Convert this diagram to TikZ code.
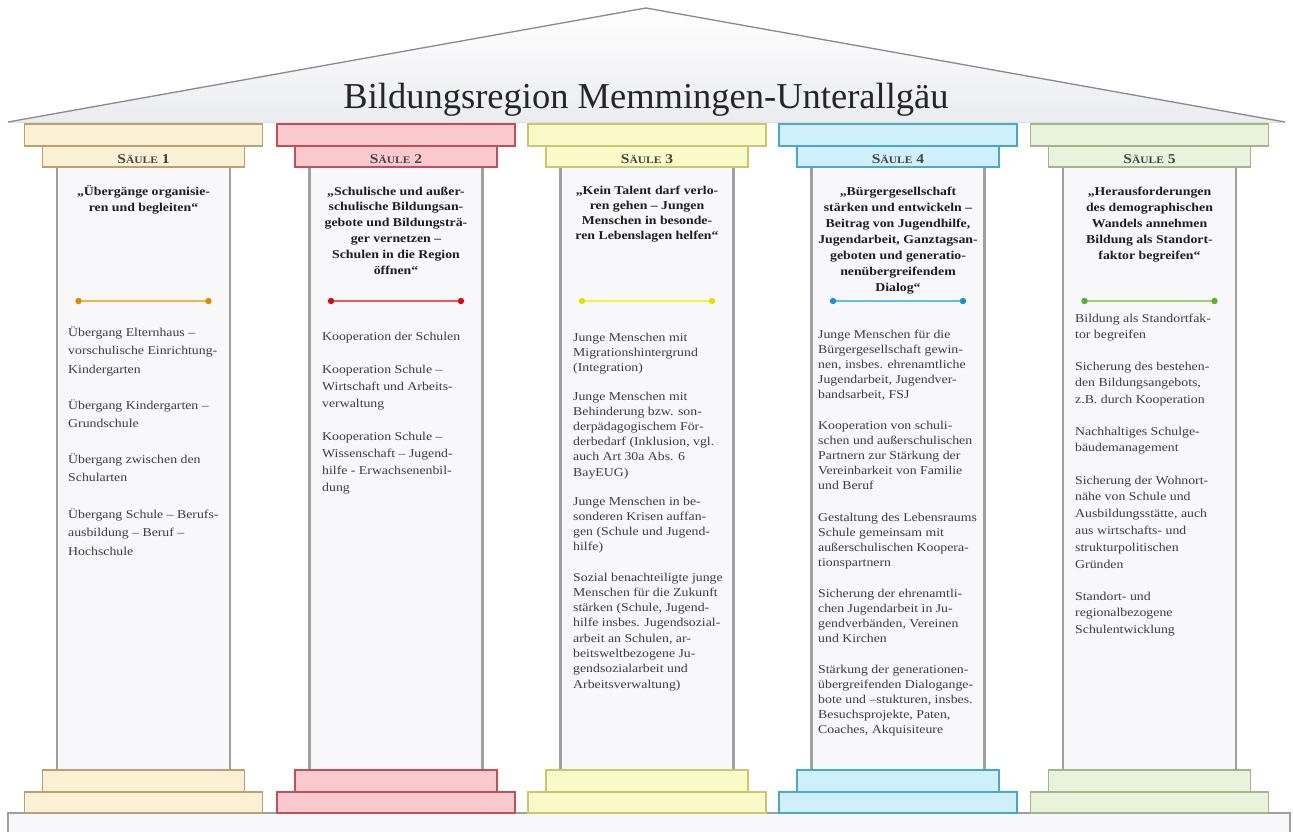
\documentclass[tikz,border=0pt]{standalone}
\usepackage{fontspec}
\setmainfont{Liberation Serif}[FakeStretch=1.15]
\newfontfamily\titlefont{Liberation Serif}
\definecolor{roofbot}{HTML}{EBECF0}
\definecolor{roofline}{HTML}{8A8A8A}
\definecolor{shaftfill}{HTML}{F8F8FA}
\definecolor{shaftline}{HTML}{A0A0A0}
\definecolor{bodycol}{HTML}{3C3C3C}
\definecolor{titlecol}{HTML}{1E1E1E}
\definecolor{headcol}{HTML}{444444}
\definecolor{fillA}{HTML}{FCF0D4}\definecolor{drawA}{HTML}{B8A270}
\definecolor{lineA}{HTML}{F4B24A}\definecolor{dotA}{HTML}{E08A00}
\definecolor{fillB}{HTML}{F9C9CD}\definecolor{drawB}{HTML}{C2505A}
\definecolor{lineB}{HTML}{EE5A60}\definecolor{dotB}{HTML}{D80818}
\definecolor{fillC}{HTML}{FAFAC8}\definecolor{drawC}{HTML}{C8C870}
\definecolor{lineC}{HTML}{F2F240}\definecolor{dotC}{HTML}{E2E200}
\definecolor{fillD}{HTML}{CFEFFA}\definecolor{drawD}{HTML}{4AA8CC}
\definecolor{lineD}{HTML}{5CC0E8}\definecolor{dotD}{HTML}{1E90D0}
\definecolor{fillE}{HTML}{E9F3DC}\definecolor{drawE}{HTML}{A4B48C}
\definecolor{lineE}{HTML}{9AD070}\definecolor{dotE}{HTML}{5CB030}
\tikzset{
  capbar/.style={line width=1.3pt},
  shaftbox/.style={fill=shaftfill, draw=shaftline, line width=2.5pt},
  header/.style={text=headcol, anchor=base, inner sep=0pt},
  ttl/.style={font=\bfseries\fontsize{12}{15}\selectfont, text=titlecol, align=center, anchor=base, inner sep=0pt},
  body/.style={text=bodycol, align=left, anchor=base west, inner sep=0pt},
  dotline/.style={line width=2.2pt},
}
% multi-line nodes: the base anchor lies on the LAST line, so y = first baseline + (lines-1)*skip
\newcommand{\pillar}[6]{%
  \draw[shaftbox] (#1-86.5,160) rectangle (#1+86.5,776);
  \draw[capbar,fill=#2,draw=#3] (#1-119,124) rectangle (#1+119,146);
  \draw[capbar,fill=#2,draw=#3] (#1-101,146) rectangle (#1+101,167);
  \draw[capbar,fill=#2,draw=#3] (#1-101,770) rectangle (#1+101,792);
  \draw[capbar,fill=#2,draw=#3] (#1-119,792) rectangle (#1+119,813);
  \node[header] (head#4) at (#1,163) {\bfseries\fontsize{13.5}{15}\selectfont S\fontsize{10}{12}\selectfont ÄULE\fontsize{13.5}{15}\selectfont\ #4};
  \coordinate (la#4) at (#1-65,301);
  \coordinate (lb#4) at (#1+65,301);
  \draw[dotline,#5] (la#4) -- (lb#4);
  \fill[#6] (la#4) circle (3.2);
  \fill[#6] (lb#4) circle (3.2);
}
\begin{document}
\begin{tikzpicture}[x=1pt,y=-1pt]
\useasboundingbox (0,0) rectangle (1293,831);
% roof
\coordinate (roofL) at (8,122);
\coordinate (roofT) at (646,8);
\coordinate (roofR) at (1285,122);
\fill[top color=white,bottom color=roofbot] (roofL) -- (roofT) -- (roofR) -- cycle;
\draw[roofline,line width=1.3pt] (roofL) -- (roofT) -- (roofR);
\node[font=\titlefont\fontsize{36.5}{40}\selectfont, text=black!85, anchor=base, inner sep=0pt] (title) at (646,108) {Bildungsregion Memmingen-Unterallgäu};
% floor
\draw[fill=shaftfill, draw=shaftline, line width=1.5pt] (8,813) rectangle (1290,845);
% pillars
\pillar{143.5}{fillA}{drawA}{1}{lineA}{dotA}
\pillar{396}{fillB}{drawB}{2}{lineB}{dotB}
\pillar{647}{fillC}{drawC}{3}{lineC}{dotC}
\pillar{898}{fillD}{drawD}{4}{lineD}{dotD}
\pillar{1149.5}{fillE}{drawE}{5}{lineE}{dotE}
% column 1
\node[ttl,font=\bfseries\fontsize{12}{16}\selectfont] (t1) at (143.5,195+16) {„Übergänge organisie-\\ren und begleiten“};
\node[body,font=\fontsize{12}{18.5}\selectfont] (p11) at (68,336+2*18.5) {Übergang Elternhaus –\\vorschulische Einrichtung-\\Kindergarten};
\node[body,font=\fontsize{12}{18.5}\selectfont] (p12) at (68,409+18.5) {Übergang Kindergarten –\\Grundschule};
\node[body,font=\fontsize{12}{18.5}\selectfont] (p13) at (68,463+18.5) {Übergang zwischen den\\Schularten};
\node[body,font=\fontsize{12}{18.5}\selectfont] (p14) at (68,518+2*18.5) {Übergang Schule – Berufs-\\ausbildung – Beruf –\\Hochschule};
% column 2
\node[ttl,font=\bfseries\fontsize{12}{15.8}\selectfont] (t2) at (396,195+5*15.8) {„Schulische und außer-\\schulische Bildungsan-\\gebote und Bildungsträ-\\ger vernetzen –\\Schulen in die Region\\öffnen“};
\node[body,font=\fontsize{12}{17}\selectfont] (p21) at (322,340) {Kooperation der Schulen};
\node[body,font=\fontsize{12}{17}\selectfont] (p22) at (322,373+2*17) {Kooperation Schule –\\Wirtschaft und Arbeits-\\verwaltung};
\node[body,font=\fontsize{12}{17}\selectfont] (p23) at (322,440+3*17) {Kooperation Schule –\\Wissenschaft – Jugend-\\hilfe - Erwachsenenbil-\\dung};
% column 3
\node[ttl] (t3) at (647,194+3*15) {„Kein Talent darf verlo-\\ren gehen – Jungen\\Menschen in besonde-\\ren Lebenslagen helfen“};
\node[body,font=\fontsize{12}{15.2}\selectfont] (p31) at (573,341+2*15.2) {Junge Menschen mit\\Migrationshintergrund\\(Integration)};
\node[body,font=\fontsize{12}{15.2}\selectfont] (p32) at (573,400+5*15.2) {Junge Menschen mit\\Behinderung bzw. son-\\derpädagogischem För-\\derbedarf (Inklusion, vgl.\\auch Art 30a Abs. 6\\BayEUG)};
\node[body,font=\fontsize{12}{15.2}\selectfont] (p33) at (573,505+3*15.2) {Junge Menschen in be-\\sonderen Krisen auffan-\\gen (Schule und Jugend-\\hilfe)};
\node[body,font=\fontsize{12}{15.3}\selectfont] (p34) at (573,581+7*15.3) {Sozial benachteiligte junge\\Menschen für die Zukunft\\stärken (Schule, Jugend-\\hilfe insbes. Jugendsozial-\\arbeit an Schulen, ar-\\beitsweltbezogene Ju-\\gendsozialarbeit und\\Arbeitsverwaltung)};
% column 4
\node[ttl,font=\bfseries\fontsize{12}{16}\selectfont] (t4) at (898,195+6*16) {„Bürgergesellschaft\\stärken und entwickeln –\\Beitrag von Jugendhilfe,\\Jugendarbeit, Ganztagsan-\\geboten und generatio-\\nenübergreifendem\\Dialog“};
\node[body,font=\fontsize{12}{15.1}\selectfont] (p41) at (818,338+4*15.1) {Junge Menschen für die\\Bürgergesellschaft gewin-\\nen, insbes. ehrenamtliche\\Jugendarbeit, Jugendver-\\bandsarbeit, FSJ};
\node[body,font=\fontsize{12}{15.1}\selectfont] (p42) at (818,429+4*15.1) {Kooperation von schuli-\\schen und außerschulischen\\Partnern zur Stärkung der\\Vereinbarkeit von Familie\\und Beruf};
\node[body,font=\fontsize{12}{15.1}\selectfont] (p43) at (818,521+3*15.1) {Gestaltung des Lebensraums\\Schule gemeinsam mit\\außerschulischen Koopera-\\tionspartnern};
\node[body,font=\fontsize{12}{15.1}\selectfont] (p44) at (818,597+3*15.1) {Sicherung der ehrenamtli-\\chen Jugendarbeit in Ju-\\gendverbänden, Vereinen\\und Kirchen};
\node[body,font=\fontsize{12}{15.2}\selectfont] (p45) at (818,673+4*15.2) {Stärkung der generationen-\\übergreifenden Dialogange-\\bote und –stukturen, insbes.\\Besuchsprojekte, Paten,\\Coaches, Akquisiteure};
% column 5
\node[ttl,font=\bfseries\fontsize{12}{16}\selectfont] (t5) at (1149.5,195+4*16) {„Herausforderungen\\des demographischen\\Wandels annehmen\\Bildung als Standort-\\faktor begreifen“};
\node[body,font=\fontsize{12}{16.8}\selectfont] (p51) at (1075,322+16.8) {Bildung als Standortfak-\\tor begreifen};
\node[body,font=\fontsize{12}{16.8}\selectfont] (p52) at (1075,370+2*16.8) {Sicherung des bestehen-\\den Bildungsangebots,\\z.B. durch Kooperation};
\node[body,font=\fontsize{12}{16.8}\selectfont] (p53) at (1075,435+16.8) {Nachhaltiges Schulge-\\bäudemanagement};
\node[body,font=\fontsize{12}{16.8}\selectfont] (p54) at (1075,484+5*16.8) {Sicherung der Wohnort-\\nähe von Schule und\\Ausbildungsstätte, auch\\aus wirtschafts- und\\strukturpolitischen\\Gründen};
\node[body,font=\fontsize{12}{16.5}\selectfont] (p55) at (1075,600+2*16.5) {Standort- und\\regionalbezogene\\Schulentwicklung};
\end{tikzpicture}
\end{document}
